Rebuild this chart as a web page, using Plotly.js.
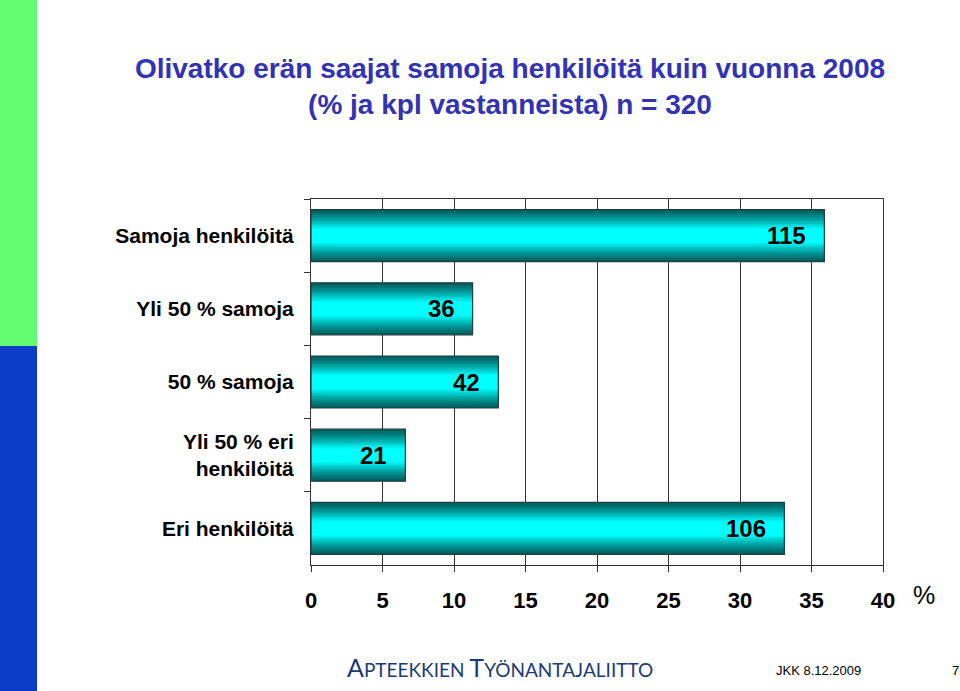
<!DOCTYPE html>
<html>
<head>
<meta charset="utf-8">
<script src="https://cdn.plot.ly/plotly-3.0.1.min.js"></script>
<style>
html,body{margin:0;padding:0;background:#fff;}
#chart{width:960px;height:691px;}
</style>
</head>
<body>
<div id="chart"></div>
<script>
// ---- data ----
var categories = ["Samoja henkilöitä", "Yli 50 % samoja", "50 % samoja", "Yli 50 % eri<br>henkilöitä", "Eri henkilöitä"];
var percentages = [35.9, 11.3, 13.1, 6.6, 33.1];
var counts = ["115", "36", "42", "21", "106"];
var xTickValues = [0, 5, 10, 15, 20, 25, 30, 35, 40];
var xTickLabels = ["0", "5", "10", "15", "20", "25", "30", "35", "40"];
var titleText = "Olivatko erän saajat samoja henkilöitä kuin vuonna 2008<br>(% ja kpl vastanneista) n = 320";

// ---- layout geometry (pixels) ----
var W = 960, H = 691;
var PL = 311, PR = 883, PT = 199, PB = 565;
function px(x){ return (x - PL) / (PR - PL); }
function py(y){ return (PB - y) / (PB - PT); }

var FONT = "Arial, 'Liberation Sans', Helvetica, sans-serif";

// gradient layers for the 3D-looking bars
var layerScale = [1.0, 0.93, 0.86, 0.79, 0.72, 0.65, 0.58, 0.51, 0.44, 0.38, 0.32, 0.26];
var layerColor = ["#005e5e", "#006b6b", "#007878", "#008585", "#009393", "#00a2a2",
                  "#00b3b3", "#00c4c4", "#00d6d6", "#00e6e6", "#00f4f4", "#00ffff"];
var barWidth = 0.71;

var traces = [];
for (var i = 0; i < layerScale.length; i++) {
  traces.push({
    type: "bar", orientation: "h",
    x: percentages, y: categories,
    width: barWidth * layerScale[i],
    marker: {color: layerColor[i], line: {width: 0}},
    hoverinfo: "skip", showlegend: false
  });
}
// outline
traces.push({
  type: "bar", orientation: "h",
  x: percentages, y: categories,
  width: barWidth,
  marker: {color: "rgba(0,0,0,0)", line: {color: "#1e3f3f", width: 1.2}},
  hoverinfo: "skip", showlegend: false
});

var annotations = [];
for (var j = 0; j < categories.length; j++) {
  annotations.push({
    x: percentages[j], y: categories[j], xref: "x", yref: "y",
    text: counts[j], showarrow: false, xanchor: "right", yanchor: "middle",
    xshift: -16, font: {family: FONT, size: 24, color: "#000", weight: "bold"}
  });
}
annotations.push({
  x: px(924), y: py(595), xref: "paper", yref: "paper",
  text: "%", showarrow: false, xanchor: "center", yanchor: "middle",
  font: {family: FONT, size: 25, color: "#000"}
});
annotations.push({
  x: px(345), y: py(667), xref: "paper", yref: "paper",
  text: "<span style='font-size:25px'>A</span>PTEEKKIEN <span style='font-size:25px'>T</span>YÖNANTAJALIITTO",
  showarrow: false, xanchor: "left", yanchor: "middle",
  font: {family: "Lato, 'Noto Sans', sans-serif", size: 19, color: "#1b3a78"}
});
annotations.push({
  x: px(818), y: py(670), xref: "paper", yref: "paper",
  text: "JKK 8.12.2009", showarrow: false, xanchor: "center", yanchor: "middle",
  font: {family: FONT, size: 13, color: "#000"}
});
annotations.push({
  x: px(955), y: py(670), xref: "paper", yref: "paper",
  text: "7", showarrow: false, xanchor: "center", yanchor: "middle",
  font: {family: FONT, size: 13, color: "#000"}
});

var shapes = [
  {type: "rect", xref: "paper", yref: "paper", x0: px(0), x1: px(37), y0: py(0), y1: py(346),
   fillcolor: "#63fb70", line: {width: 0}, layer: "below"},
  {type: "rect", xref: "paper", yref: "paper", x0: px(0), x1: px(37), y0: py(346), y1: py(H),
   fillcolor: "#0b3dc9", line: {width: 0}, layer: "below"}
];

var layout = {
  width: W, height: H,
  margin: {l: PL, r: W - PR, t: PT, b: H - PB, pad: 0},
  paper_bgcolor: "#ffffff", plot_bgcolor: "#ffffff",
  barmode: "overlay",
  title: {
    text: "<b>" + titleText + "</b>",
    x: 510 / W, xanchor: "center", xref: "container",
    y: 1 - 78 / H, yanchor: "top", yref: "container",
    font: {family: FONT, size: 28, color: "#3232b4"}
  },
  xaxis: {
    range: [0, 40], tickvals: xTickValues, ticktext: xTickLabels,
    showgrid: true, gridcolor: "#333333", gridwidth: 1,
    showline: true, linecolor: "#333333", linewidth: 1, mirror: true,
    ticks: "outside", ticklen: 6, tickcolor: "#333333",
    tickfont: {family: FONT, size: 22, color: "#000", weight: "bold"},
    ticklabelstandoff: 10,
    zeroline: false, fixedrange: true
  },
  yaxis: {
    type: "category", autorange: "reversed",
    showline: true, linecolor: "#333333", linewidth: 1, mirror: true,
    ticks: "outside", ticklen: 6, tickcolor: "#333333", tickson: "boundaries",
    tickfont: {family: FONT, size: 21, color: "#000", weight: "bold"},
    ticklabelstandoff: 12,
    showgrid: false, zeroline: false, fixedrange: true
  },
  shapes: shapes,
  annotations: annotations,
  font: {family: FONT}
};

Plotly.newPlot("chart", traces, layout, {staticPlot: true, displayModeBar: false});
</script>
</body>
</html>
